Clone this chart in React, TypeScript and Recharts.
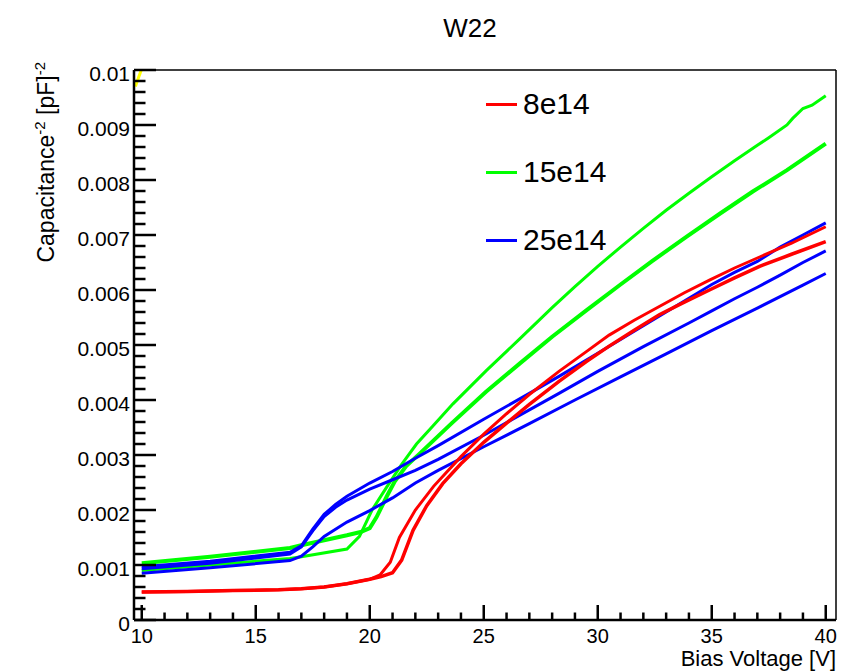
import React from 'react';
import { LineChart, Line, XAxis, YAxis, Legend } from 'recharts';

const FONT = '"Liberation Sans", Arial, Helvetica, sans-serif';

// ---- axis ticks ----
const xMajorTicks = [10, 15, 20, 25, 30, 35, 40];
const xTickLabels = ['10', '15', '20', '25', '30', '35', '40'];
const xMinorTicks = [11, 12, 13, 14, 16, 17, 18, 19, 21, 22, 23, 24, 26, 27, 28, 29, 31, 32, 33, 34, 36, 37, 38, 39];
const yMajorTicks = [0, 0.001, 0.002, 0.003, 0.004, 0.005, 0.006, 0.007, 0.008, 0.009, 0.01];
const yTickLabels = ['0', '0.001', '0.002', '0.003', '0.004', '0.005', '0.006', '0.007', '0.008', '0.009', '0.01'];
const yMinorTicks = [
  0.0002, 0.0004, 0.0006, 0.0008, 0.0012, 0.0014, 0.0016, 0.0018, 0.0022, 0.0024, 0.0026, 0.0028,
  0.0032, 0.0034, 0.0036, 0.0038, 0.0042, 0.0044, 0.0046, 0.0048, 0.0052, 0.0054, 0.0056, 0.0058,
  0.0062, 0.0064, 0.0066, 0.0068, 0.0072, 0.0074, 0.0076, 0.0078, 0.0082, 0.0084, 0.0086, 0.0088,
  0.0092, 0.0094, 0.0096, 0.0098,
];
const xDomain = [9.66, 40.45];
const yDomain = [0, 0.01];
const xAllTicks = [...xMajorTicks, ...xMinorTicks].sort((a, b) => a - b);
const yAllTicks = [...yMajorTicks, ...yMinorTicks].sort((a, b) => a - b);

// ---- legend ----
const legendNames = ['8e14', '15e14', '25e14'];
const legendColors = ['#ff0000', '#00ff00', '#0000ff'];

// ---- series: [bias voltage V, capacitance^-2 pF^-2] ----
const red8e14a: [number, number][] = [
  [10, 0.00051], [12, 0.00052], [14, 0.000535], [16, 0.00055], [17, 0.00057], [18, 0.0006], [19, 0.00066],
  [20, 0.00074], [20.45, 0.00082], [20.9, 0.00105], [21.3, 0.0015], [22, 0.002], [22.8, 0.00243], [24, 0.00297],
  [25, 0.00338], [26, 0.00375], [27, 0.0041], [28.3, 0.00452], [29.5, 0.00488], [30.5, 0.00518], [31.6, 0.00545],
  [32.7, 0.0057], [33.8, 0.00595], [34.9, 0.00618], [36, 0.0064], [37.1, 0.0066], [38.5, 0.00685], [40, 0.00715],
];
const red8e14b: [number, number][] = [
  [10, 0.00051], [12, 0.00052], [14, 0.000535], [16, 0.00055], [17, 0.00057], [18, 0.0006], [19, 0.00066],
  [20, 0.00074], [20.5, 0.00079], [21, 0.00086], [21.4, 0.00109], [21.9, 0.00163], [22.5, 0.00208], [23.2, 0.00248],
  [24, 0.00284], [25, 0.00323], [26, 0.00358], [27, 0.00392], [28.3, 0.00434], [29.5, 0.0047], [30.5, 0.00498],
  [31.6, 0.00527], [32.7, 0.00555], [33.8, 0.00578], [34.9, 0.006], [36, 0.00622], [37.1, 0.00643], [38.5, 0.00665],
  [40, 0.00688],
];
const green15e14a: [number, number][] = [
  [10, 0.00103], [13, 0.00115], [16.5, 0.00131], [17, 0.00136], [18, 0.00145], [19, 0.00154], [19.6, 0.0016],
  [20, 0.00167], [20.3, 0.00187], [20.75, 0.00225], [21.1, 0.00252], [21.6, 0.0028], [22.2, 0.00303], [23.6, 0.00358],
  [25.1, 0.00415], [26.6, 0.00467], [28, 0.00515], [29.5, 0.00563], [31, 0.0061], [32.4, 0.00653], [33.9, 0.00697],
  [35.4, 0.0074], [36.8, 0.00779], [38.3, 0.00818], [40, 0.00866],
];
const green15e14b: [number, number][] = [
  [10, 0.0009], [13, 0.001], [16.5, 0.00112], [17, 0.00115], [19, 0.00129], [19.55, 0.00152], [20.1, 0.002],
  [20.75, 0.00242], [21.4, 0.00283], [22.05, 0.0032], [22.75, 0.00352], [23.65, 0.00393], [25.1, 0.00453],
  [26.6, 0.00512], [28, 0.00568], [29, 0.00606], [30, 0.00643], [31, 0.00678], [32, 0.00712], [33, 0.00745],
  [34, 0.00776], [35, 0.00806], [36, 0.00835], [37, 0.00863], [37.5, 0.00877], [38.3, 0.009], [38.55, 0.00912],
  [39, 0.0093], [39.4, 0.00936], [40, 0.00953],
];
const blue25e14a: [number, number][] = [
  [10, 0.00097], [13, 0.00107], [16.5, 0.00123], [17, 0.00135], [17.5, 0.00165], [18, 0.00192], [18.5, 0.0021],
  [19, 0.00225], [20, 0.00249], [21, 0.0027], [22, 0.00294], [23, 0.00317], [25, 0.00365], [27, 0.00412],
  [28.3, 0.00443], [30, 0.00485], [31, 0.0051], [32, 0.00535], [33, 0.0056], [34, 0.00585], [35, 0.0061],
  [36, 0.00632], [37, 0.00652], [37.5, 0.00665], [38, 0.00678], [39, 0.007], [40, 0.00722],
];
const blue25e14b: [number, number][] = [
  [10, 0.00093], [13, 0.00103], [16.5, 0.0012], [17, 0.00133], [17.5, 0.00162], [18, 0.00188], [18.5, 0.00205],
  [19, 0.00218], [20, 0.00238], [21, 0.00255], [22, 0.00272], [23, 0.00292], [25, 0.00336], [27, 0.00382],
  [28.3, 0.00412], [30, 0.00452], [32, 0.00497], [34, 0.0054], [35, 0.00562], [36, 0.00584], [37, 0.00605],
  [38, 0.00627], [39, 0.0065], [40, 0.00671],
];
const blue25e14c: [number, number][] = [
  [10, 0.00085], [13, 0.00095], [16.5, 0.00108], [17, 0.00116], [17.5, 0.00133], [18, 0.00152], [19, 0.00178],
  [20, 0.00199], [21, 0.00222], [22, 0.00249], [23, 0.00272], [25, 0.00315], [27, 0.00357], [29, 0.004],
  [31, 0.00442], [33, 0.00484], [35, 0.00526], [37, 0.00567], [39, 0.00609], [40, 0.0063],
];
const yellowOther: [number, number][] = [
  [9.72, 0.0097], [10.15, 0.0102],
];

const series = [
  { id: 'g1', pts: green15e14a, color: '#00ff00', w: 4 },
  { id: 'g2', pts: green15e14b, color: '#00ff00', w: 3 },
  { id: 'b1', pts: blue25e14a, color: '#0000ff', w: 3 },
  { id: 'b2', pts: blue25e14b, color: '#0000ff', w: 3 },
  { id: 'b3', pts: blue25e14c, color: '#0000ff', w: 3 },
  { id: 'r1', pts: red8e14a, color: '#ff0000', w: 3 },
  { id: 'r2', pts: red8e14b, color: '#ff0000', w: 3.5 },
  { id: 'y1', pts: yellowOther, color: '#ffff00', w: 3 },
];

const toRows = (pts: [number, number][]) => pts.map(([v, c]) => ({ v, c }));

const XTick = (props: any) => {
  const { x, y, payload } = props;
  const idx = xMajorTicks.indexOf(payload.value);
  if (idx < 0) {
    return <line x1={x} x2={x} y1={y} y2={y - 7.5} stroke="#000" strokeWidth={2.5} />;
  }
  return (
    <g>
      <line x1={x} x2={x} y1={y} y2={y - 15} stroke="#000" strokeWidth={2.5} />
      <text x={x} y={y + 16} textAnchor="middle" dominantBaseline="central" fontSize={20} fontFamily={FONT} fill="#000">
        {xTickLabels[idx]}
      </text>
    </g>
  );
};
const YTick = (props: any) => {
  const { x, y, payload } = props;
  const idx = yMajorTicks.indexOf(payload.value);
  if (idx < 0) {
    return <line x1={x} x2={x + 11.5} y1={y} y2={y} stroke="#000" strokeWidth={2.5} />;
  }
  return (
    <g>
      <line x1={x} x2={x + 22} y1={y} y2={y} stroke="#000" strokeWidth={2.5} />
      <text x={x - 4} y={y + 3} textAnchor="end" dominantBaseline="central" fontSize={21} fontFamily={FONT} fill="#000">
        {yTickLabels[idx]}
      </text>
    </g>
  );
};

const LegendBox = () => (
  <div style={{ fontFamily: FONT }}>
    {legendNames.map((n, i) => (
      <div key={n} style={{ display: 'flex', alignItems: 'center', height: 68 }}>
        <div style={{ width: 31, height: 3, background: legendColors[i], marginRight: 6 }} />
        <span style={{ fontSize: 30, lineHeight: '34px', color: '#000' }}>{n}</span>
      </div>
    ))}
  </div>
);

export default function App() {
  return (
    <div style={{ position: 'absolute', left: 0, top: 0, width: 857, height: 671, background: '#fff' }}>
      <div style={{ position: 'absolute', left: 370, top: 14, width: 200, textAlign: 'center', fontFamily: FONT, fontSize: 26, lineHeight: '28px' }}>
        W22
      </div>
      <div
        style={{
          position: 'absolute', left: 27 - 300, top: 62, width: 300, textAlign: 'right', whiteSpace: 'nowrap',
          transformOrigin: 'right top', transform: 'rotate(-90deg)', fontFamily: FONT, fontSize: 23, lineHeight: '26px',
        }}
      >
        Capacitance<sup style={{ fontSize: 15 }}>-2</sup> [pF]<sup style={{ fontSize: 15 }}>-2</sup>
      </div>
      <div style={{ position: 'absolute', left: 436, top: 648, width: 400, textAlign: 'right', fontFamily: FONT, fontSize: 22, lineHeight: '22px' }}>
        Bias Voltage [V]
      </div>
      <LineChart width={857} height={671} margin={{ top: 69, right: 20, bottom: 50, left: 133 }}>
        <XAxis
          xAxisId={0} type="number" dataKey="v" domain={xDomain} allowDataOverflow ticks={xAllTicks} interval={0}
          height={1} tickSize={0} tickMargin={0} tickLine={false} tick={<XTick />}
          axisLine={{ stroke: '#000', strokeWidth: 2.5 }}
        />
        <XAxis
          xAxisId="top" orientation="top" type="number" domain={xDomain} allowDataOverflow height={1}
          tick={false} tickLine={false} axisLine={{ stroke: '#000', strokeWidth: 1.5 }}
        />
        <YAxis
          yAxisId={0} type="number" domain={yDomain} allowDataOverflow ticks={yAllTicks} interval={0}
          width={1} tickSize={0} tickMargin={0} tickLine={false} tick={<YTick />}
          axisLine={{ stroke: '#000', strokeWidth: 2.5 }}
        />
        <YAxis
          yAxisId="right" orientation="right" type="number" domain={yDomain} allowDataOverflow width={1}
          tick={false} tickLine={false} axisLine={{ stroke: '#000', strokeWidth: 1.5 }}
        />
        {series.map((s) => (
          <Line
            key={s.id}
            data={toRows(s.pts)}
            dataKey="c"
            type="linear"
            stroke={s.color}
            strokeWidth={s.w}
            dot={false}
            activeDot={false}
            isAnimationActive={false}
            legendType="none"
          />
        ))}
        <Legend
          layout="vertical" align="center" verticalAlign="middle"
          content={() => <LegendBox />}
          wrapperStyle={{ left: 486, top: 70, width: 200 }}
        />
      </LineChart>
    </div>
  );
}
